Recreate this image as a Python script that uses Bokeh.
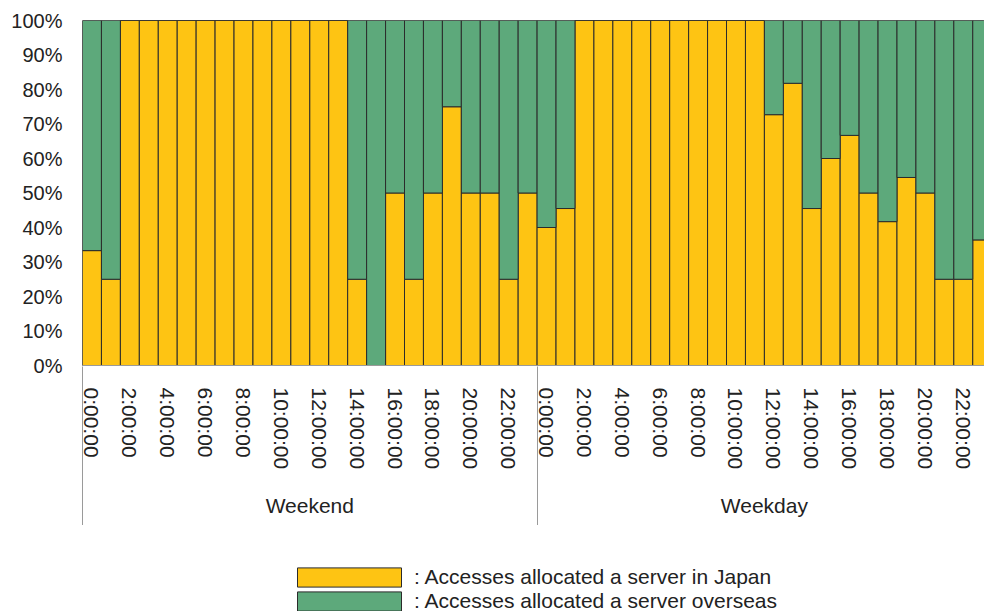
from bokeh.plotting import figure
from bokeh.layouts import column
from bokeh.models import (Range1d, FixedTicker, LinearAxis, Legend, LegendItem,
                          PrintfTickFormatter, ColumnDataSource)
from bokeh.embed import file_html
from bokeh.resources import INLINE

# ---- data -------------------------------------------------------------
groups = ["Weekend", "Weekday"]
hour_labels = ["0:00:00", "2:00:00", "4:00:00", "6:00:00", "8:00:00", "10:00:00",
               "12:00:00", "14:00:00", "16:00:00", "18:00:00", "20:00:00", "22:00:00"]
# share (%) of accesses allocated a server in Japan, one value per hour
weekend_japan = [33.3, 25, 100, 100, 100, 100, 100, 100, 100, 100, 100, 100,
                 100, 100, 25, 0, 50, 25, 50, 75, 50, 50, 25, 50]
weekday_japan = [40, 45.5, 100, 100, 100, 100, 100, 100, 100, 100, 100, 100,
                 72.7, 81.8, 45.5, 60, 66.7, 50, 41.7, 54.5, 50, 25, 25, 36.4]
y_ticks = [0, 10, 20, 30, 40, 50, 60, 70, 80, 90, 100]
series_names = [": Accesses allocated a server in Japan",
                ": Accesses allocated a server overseas"]

FONT = "Liberation Sans"
TXT = "#222222"
YELLOW = "#FEC413"
GREEN = "#5DA97B"
EDGE = "#2b2b2b"
GRAY = "#9a9a9a"

japan = weekend_japan + weekday_japan
n = len(japan)
n_per_group = len(weekend_japan)
xs = [i + 0.5 for i in range(n)]
src = ColumnDataSource(dict(x=xs, japan=japan, zero=[0] * n, full=[100] * n))

p = figure(width=984, height=525, output_backend="svg", toolbar_location=None,
           x_range=Range1d(0, 47.62), y_range=Range1d(0, 100),
           min_border_left=82, min_border_right=0, min_border_top=20,
           min_border_bottom=0)
p.background_fill_color = "white"
p.border_fill_color = "white"
p.outline_line_color = "#8a8a8a"
p.xgrid.visible = False
p.ygrid.visible = False

bar_style = dict(x="x", width=1, source=src, line_color=EDGE, line_width=1)
r1 = p.vbar(bottom="zero", top="japan", fill_color=YELLOW, **bar_style)
r2 = p.vbar(bottom="japan", top="full", fill_color=GREEN, **bar_style)

# ---- y axis -----------------------------------------------------------
ya = p.yaxis[0]
ya.ticker = FixedTicker(ticks=y_ticks)
ya.formatter = PrintfTickFormatter(format="%d%%")
ya.axis_line_color = None
ya.major_tick_line_color = None
ya.minor_tick_line_color = None
ya.major_tick_out = 0
ya.major_tick_in = 0
ya.major_label_standoff = 20
ya.major_label_text_font = FONT
ya.major_label_text_font_size = "20px"
ya.major_label_text_color = TXT

# ---- hour axis --------------------------------------------------------
tick_pos = []
overrides = {}
for g in range(len(groups)):
    for k, lab in enumerate(hour_labels):
        pos = g * n_per_group + 2 * k + 0.5
        tick_pos.append(pos)
        overrides[pos] = lab

xa = p.xaxis[0]
xa.ticker = FixedTicker(ticks=tick_pos)
xa.major_label_overrides = overrides
xa.major_label_orientation = "vertical"
xa.major_tick_out = 0
xa.major_tick_in = 0
xa.major_tick_line_color = None
xa.minor_tick_line_color = None
xa.minor_tick_in = 0
xa.minor_tick_out = 0
xa.axis_line_color = GRAY
xa.major_label_standoff = 22
xa.major_label_text_font = FONT
xa.major_label_text_font_size = "21px"
xa.major_label_text_color = TXT

# ---- group axis -------------------------------------------------------
g_mid = [n_per_group / 2, n_per_group * 1.5]
ga = LinearAxis(ticker=FixedTicker(ticks=g_mid),
                major_label_overrides={g_mid[0]: groups[0], g_mid[1]: groups[1]})
ga.axis_line_color = None
ga.major_tick_line_color = None
ga.minor_tick_line_color = None
ga.major_tick_out = 0
ga.major_tick_in = 0
ga.minor_tick_out = 0
ga.minor_tick_in = 0
ga.major_label_standoff = 21
ga.major_label_text_font = FONT
ga.major_label_text_font_size = "21px"
ga.major_label_text_color = TXT
p.add_layout(ga, "below")

# ---- group separators (ticks reaching up to the plot) -----------------
bounds = [0, n_per_group]
sa = LinearAxis(ticker=FixedTicker(ticks=bounds),
                major_label_overrides={bounds[0]: "|", bounds[1]: "|"})
sa.axis_line_color = None
sa.major_tick_line_color = GRAY
sa.major_tick_line_width = 1
sa.minor_tick_line_color = None
sa.minor_tick_in = 0
sa.minor_tick_out = 0
sa.major_tick_in = 153
sa.major_tick_out = 6
sa.major_label_standoff = 0
sa.major_label_text_font_size = "1px"
sa.major_label_text_color = None
p.add_layout(sa, "below")

# ---- legend (own strip under the chart) -------------------------------
# the strip shows the same two series; its y range lies above 100 %, so the
# bars themselves stay out of view and only the legend swatches are seen
p2 = figure(width=984, height=86, output_backend="svg", toolbar_location=None,
            x_axis_location=None, y_axis_location=None,
            x_range=Range1d(0, 1), y_range=Range1d(200, 300),
            min_border_left=0, min_border_right=0, min_border_top=0,
            min_border_bottom=0)
p2.outline_line_color = None
p2.xgrid.visible = False
p2.ygrid.visible = False
k1 = p2.vbar(bottom="zero", top="japan", fill_color=YELLOW, **bar_style)
k2 = p2.vbar(bottom="japan", top="full", fill_color=GREEN, **bar_style)

legend = Legend(items=[LegendItem(label=series_names[0], renderers=[k1]),
                       LegendItem(label=series_names[1], renderers=[k2])],
                location=(202, -2), orientation="vertical",
                glyph_width=130, glyph_height=24, label_standoff=0,
                spacing=0, padding=0, margin=0,
                border_line_color=None, background_fill_alpha=0,
                label_text_font=FONT, label_text_font_size="21px",
                label_text_color=TXT, label_height=24)
p2.add_layout(legend, "center")

layout = column(p, p2, spacing=0)
open("out.html", "w").write(file_html(layout, INLINE))
